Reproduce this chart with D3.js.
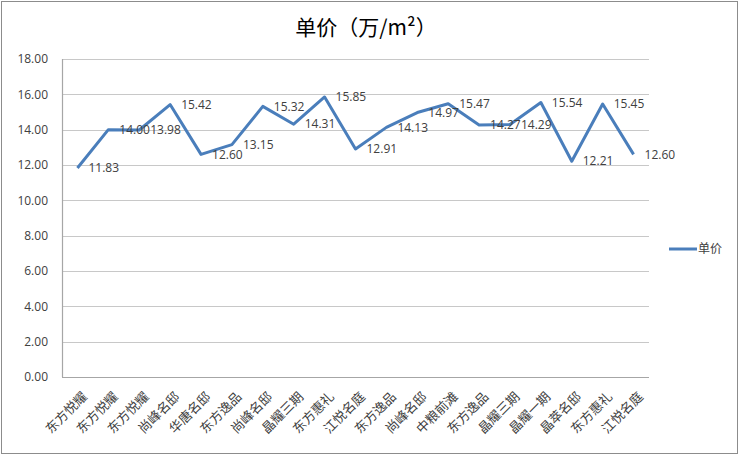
<!DOCTYPE html>
<html>
<head>
<meta charset="utf-8">
<title>单价</title>
<script src="https://cdn.jsdelivr.net/npm/d3@7"></script>
<style>
  body { margin: 0; background: #fff; }
  text { font-family: "Noto Sans CJK SC", "Liberation Sans", sans-serif; }
</style>
</head>
<body>
<script>
// data
var categories = ["东方悦耀", "东方悦耀", "东方悦耀", "尚峰名邸", "华唐名邸", "东方逸品",
                  "尚峰名邸", "晶耀三期", "东方惠礼", "江悦名庭", "东方逸品", "尚峰名邸",
                  "中粮前滩", "东方逸品", "晶耀三期", "晶耀一期", "晶萃名邸", "东方惠礼", "江悦名庭"];
var prices = [11.83, 14.00, 13.98, 15.42, 12.60, 13.15, 15.32, 14.31, 15.85, 12.91,
              14.13, 14.97, 15.47, 14.27, 14.29, 15.54, 12.21, 15.45, 12.60];
var yTicks = [0, 2, 4, 6, 8, 10, 12, 14, 16, 18];

// plot box (note: "top" is taken by window.top, so prefix them)
var w = 740, h = 456,
    pLeft = 62, pRight = 649, pTop = 59, pBottom = 377;

var svg = d3.select("body").append("svg")
  .attr("width", w)
  .attr("height", h);

// outer chart border
svg.append("rect")
  .attr("x", 1.5).attr("y", 1.5)
  .attr("width", w - 4).attr("height", h - 4)
  .attr("fill", "#fff")
  .attr("stroke", "#8c8c8c");

var x = d3.scaleBand()
  .domain(d3.range(categories.length))
  .range([pLeft, pRight]);

var y = d3.scaleLinear()
  .domain([0, 18])
  .range([pBottom, pTop]);

// gridlines
svg.append("g")
  .selectAll("line")
  .data(yTicks)
  .enter()
    .append("line")
    .attr("x1", pLeft).attr("x2", pRight)
    .attr("y1", function(d) { return Math.round(y(d)) + 0.5; })
    .attr("y2", function(d) { return Math.round(y(d)) + 0.5; })
    .attr("stroke", function(d) { return d === 0 ? "#a6a6a6" : "#c8c8c8"; })
    .attr("stroke-width", 1.2);

// left axis line
svg.append("line")
  .attr("x1", pLeft + 0.5).attr("x2", pLeft + 0.5)
  .attr("y1", pTop).attr("y2", pBottom)
  .attr("stroke", "#a6a6a6")
  .attr("stroke-width", 1.2);

// y tick labels
var yAxis = d3.axisLeft(y).tickValues(yTicks).tickFormat(d3.format(".2f")).tickSize(0).tickPadding(14);
var gy = svg.append("g").attr("transform", "translate(" + pLeft + ",0)").call(yAxis);
gy.select(".domain").remove();
gy.selectAll("text")
  .attr("fill", "#404040")
  .attr("font-size", 12)
  .style("font-family", "'Open Sans', 'Liberation Sans', sans-serif");

// x tick labels, rotated
var gx = svg.append("g").attr("transform", "translate(0," + pBottom + ")");
gx.selectAll("text")
  .data(categories)
  .enter()
    .append("text")
    .attr("transform", function(d, i) {
      return "translate(" + (x(i) + x.bandwidth() / 2 + 4) + ",14) rotate(-45)";
    })
    .attr("text-anchor", "end")
    .attr("dy", "0.7em")
    .attr("fill", "#404040")
    .attr("font-size", 13)
    .text(function(d) { return d; });

// the line
var line = d3.line()
  .x(function(d, i) { return x(i) + x.bandwidth() / 2; })
  .y(function(d) { return y(d); });

svg.append("path")
  .datum(prices)
  .attr("d", line)
  .attr("fill", "none")
  .attr("stroke", "#4a7ebb")
  .attr("stroke-width", 3)
  .attr("stroke-linejoin", "round");

// value labels to the right of each point
svg.append("g")
  .selectAll("text")
  .data(prices)
  .enter()
    .append("text")
    .attr("x", function(d, i) { return x(i) + x.bandwidth() / 2 + 11; })
    .attr("y", function(d) { return y(d); })
    .attr("dy", "0.35em")
    .attr("fill", "#404040")
    .attr("font-size", 12)
    .style("font-family", "'Open Sans', 'Liberation Sans', sans-serif")
    .text(function(d) { return d.toFixed(2); });

// title
svg.append("text")
  .attr("x", 366).attr("y", 29)
  .attr("text-anchor", "middle")
  .attr("dominant-baseline", "middle")
  .attr("font-size", 21)
  .attr("fill", "#000")
  .text("单价（万/m²）");

// legend
svg.append("line")
  .attr("x1", 669).attr("x2", 697)
  .attr("y1", 249).attr("y2", 249)
  .attr("stroke", "#4a7ebb")
  .attr("stroke-width", 3);
svg.append("text")
  .attr("x", 698).attr("y", 249)
  .attr("dy", "0.35em")
  .attr("font-size", 12)
  .attr("fill", "#404040")
  .text("单价");
</script>
</body>
</html>
